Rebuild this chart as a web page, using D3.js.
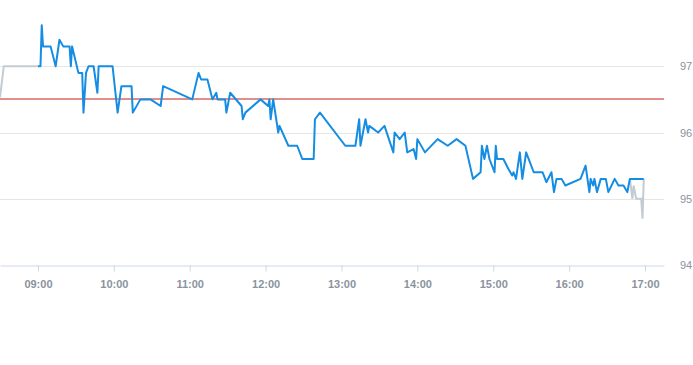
<!DOCTYPE html>
<html><head><meta charset="utf-8">
<script src="https://cdn.jsdelivr.net/npm/d3@7"></script>
<style>
body{margin:0;background:#fff;}
text{font-family:"Liberation Sans",Arial,sans-serif;}
</style></head>
<body><svg id="c" width="693" height="365"></svg>
<script>
const blueTimes = ["09:00","09:02","09:03","09:04","09:10","09:14","09:17","09:20","09:25","09:26","09:27","09:32","09:35","09:36","09:38","09:40","09:44","09:47","09:48","09:59",
"10:03","10:06","10:14","10:15","10:21","10:29","10:37","10:39","11:02","11:07","11:09","11:14","11:18","11:21","11:22","11:28","11:29","11:32","11:41","11:42","11:44","11:56",
"12:02","12:03","12:04","12:06","12:10","12:11","12:18","12:25","12:29","12:38","12:39","12:43","13:03","13:11","13:14","13:15","13:19","13:21","13:22","13:29","13:34","13:41","13:42","13:46","13:50","13:52","13:57","13:59",
"14:00","14:06","14:16","14:24","14:31","14:38","14:44","14:50","14:51","14:53","14:55","14:57","15:01","15:02","15:03","15:08","15:12","15:15","15:16","15:18","15:21","15:23","15:26","15:32","15:39","15:42","15:46","15:48","15:50","15:54","15:57",
"16:09","16:13","16:16","16:17","16:19","16:20","16:22","16:25","16:29","16:31","16:36","16:39","16:43","16:46","16:47","16:48","16:59"];
const blueValues = [97.0,97.0,97.62,97.3,97.3,97.0,97.4,97.3,97.3,97.0,97.3,96.9,96.9,96.3,96.9,97.0,97.0,96.6,97.0,97.0,
96.3,96.7,96.7,96.3,96.5,96.5,96.4,96.7,96.5,96.9,96.8,96.8,96.5,96.6,96.5,96.5,96.3,96.6,96.4,96.2,96.3,96.5,
96.4,96.5,96.2,96.5,96.0,96.1,95.8,95.8,95.6,95.6,96.2,96.3,95.8,95.8,96.2,95.8,96.2,96.0,96.1,96.0,96.1,95.7,96.0,95.9,96.0,95.7,95.75,95.6,
95.9,95.7,95.9,95.8,95.9,95.8,95.3,95.4,95.8,95.6,95.8,95.6,95.4,95.8,95.6,95.6,95.45,95.35,95.4,95.3,95.7,95.3,95.7,95.4,95.4,95.25,95.4,95.1,95.3,95.3,95.2,
95.3,95.5,95.1,95.3,95.2,95.3,95.1,95.3,95.3,95.1,95.3,95.2,95.2,95.1,95.2,95.3,95.3];
const preTimes = ["08:30","08:33","09:00"];
const preValues = [96.53,97.0,97.0];
const postTimes = ["16:48","16:50","16:51","16:53","16:57","16:58","16:59"];
const postValues = [95.3,95.0,95.2,95.0,95.0,94.7,95.3];
const referenceValue = 96.5;
const yTicks = [94,95,96,97];
const xTickLabels = ["09:00","10:00","11:00","12:00","13:00","14:00","15:00","16:00","17:00"];

const parse = d3.timeParse("%H:%M");
const W = 664, H = 265;
const svg = d3.select("#c");
const x = d3.scaleTime().domain([parse("08:30"), parse("17:15")]).range([0, W]);
const y = d3.scaleLinear().domain([94, 98]).range([H, 0]);

// grid
svg.append("g").selectAll("line").data(yTicks.filter(v=>v!==94)).join("line")
  .attr("x1",0).attr("x2",W).attr("y1",d=>Math.round(y(d))+0.5).attr("y2",d=>Math.round(y(d))+0.5)
  .attr("stroke","#e6e6e6").attr("stroke-width",1);

// y labels
svg.append("g").selectAll("text").data(yTicks).join("text")
  .attr("x",680).attr("y",d=>y(d)+4).text(d=>d)
  .attr("fill","#8a939e").attr("font-size","11px");

// x axis
const xAxis = d3.axisBottom(x).tickValues(xTickLabels.map(parse)).tickFormat(d3.timeFormat("%H:%M")).tickSize(6).tickSizeOuter(0);
const gx = svg.append("g").attr("transform",`translate(0,${H+0.5})`).call(xAxis);
gx.select(".domain").attr("stroke","#ccd6eb");
gx.selectAll(".tick line").attr("stroke","#ccd6eb");
gx.selectAll(".tick text").attr("fill","#8a939e").attr("font-size","11px").attr("font-weight","bold")
  .attr("font-family","'Liberation Sans Narrow','Liberation Sans',Arial,sans-serif").attr("dy","1.2em");

// reference line
const ry = Math.round(y(referenceValue));
svg.append("line").attr("x1",0).attr("x2",W).attr("y1",ry).attr("y2",ry)
  .attr("stroke","#c41e16").attr("stroke-width",1);

const line = d3.line().x(d=>x(parse(d[0]))).y(d=>y(d[1]));
const zip = (a,b)=>a.map((t,i)=>[t,b[i]]);
svg.append("path").attr("d",line(zip(preTimes,preValues))).attr("fill","none").attr("stroke","#c3cbd3").attr("stroke-width",2);
svg.append("path").attr("d",line(zip(postTimes,postValues))).attr("fill","none").attr("stroke","#c3cbd3").attr("stroke-width",2);
svg.append("path").attr("d",line(zip(blueTimes,blueValues))).attr("fill","none").attr("stroke","#158de3").attr("stroke-width",2).attr("stroke-linejoin","round");
</script></body></html>
